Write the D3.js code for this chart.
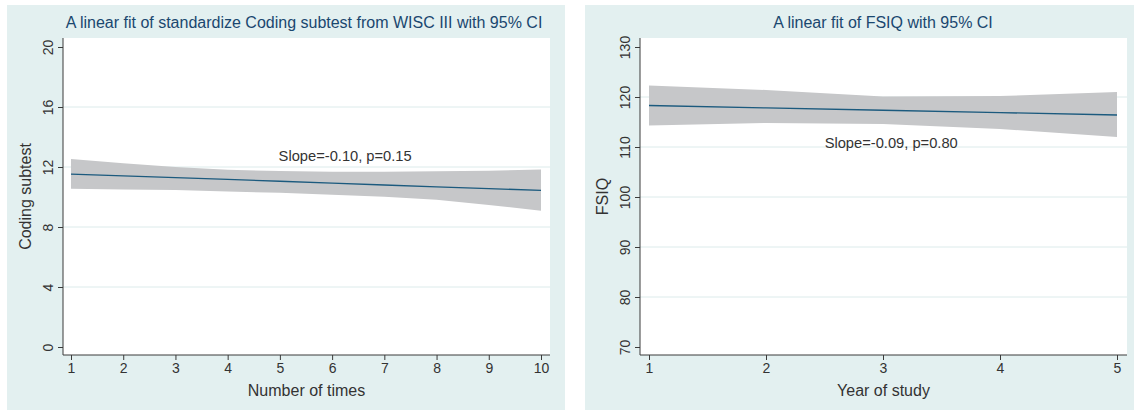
<!DOCTYPE html>
<html>
<head>
<meta charset="utf-8">
<script src="https://d3js.org/d3.v7.min.js"></script>
<style>
    body {
        margin: 0;
        background: #ffffff;
        font-family: "Liberation Sans", Arial, sans-serif;
    }
    .panel-bg { fill: #e3f0f0; }
    .plot-bg { fill: #ffffff; }
    .grid-line { stroke: #dcebeb; stroke-width: 1; }
    .ci-band { fill: #c6c7c9; }
    .fit-line { fill: none; stroke: #1b5a7e; stroke-width: 1.3; }
    .title { fill: #1a476f; font-size: 16px; }
    .axis-title { fill: #333333; font-size: 16px; }
    .note { fill: #333333; font-size: 14.7px; }
    .axis path, .axis line { stroke: #3a3a3a; }
    .axis text { fill: #333333; font-size: 14px; font-family: "Liberation Sans", Arial, sans-serif; }
</style>
</head>
<body>
<script>
    // left panel: coding subtest over number of times
    var codingX = [1, 2, 3, 4, 5, 6, 7, 8, 9, 10];
    var codingFit = [11.53, 11.41, 11.29, 11.17, 11.05, 10.92, 10.80, 10.68, 10.56, 10.44];
    var codingUpper = [12.54, 12.25, 12.0, 11.82, 11.73, 11.69, 11.69, 11.71, 11.75, 11.84];
    var codingLower = [10.55, 10.50, 10.46, 10.37, 10.28, 10.15, 10.01, 9.81, 9.47, 9.09];
    var codingYTicks = [0, 4, 8, 12, 16, 20];
    var codingXTicks = [1, 2, 3, 4, 5, 6, 7, 8, 9, 10];

    // right panel: FSIQ over year of study
    var fsiqX = [1, 2, 3, 4, 5];
    var fsiqFit = [118.3, 117.82, 117.35, 116.87, 116.4];
    var fsiqUpper = [122.3, 121.4, 120.1, 120.2, 121.0];
    var fsiqLower = [114.3, 114.8, 114.6, 113.6, 112.0];
    var fsiqYTicks = [70, 80, 90, 100, 110, 120, 130];
    var fsiqXTicks = [1, 2, 3, 4, 5];

    var svg = d3.select("body").append("svg")
        .attr("width", 1134)
        .attr("height", 410);

    function drawPanel(opt) {
        var g = svg.append("g");

        g.append("rect")
            .attr("class", "panel-bg")
            .attr("x", opt.box[0]).attr("y", opt.box[1])
            .attr("width", opt.box[2]).attr("height", opt.box[3]);

        var p = opt.plot; // left, top, right, bottom
        g.append("rect")
            .attr("class", "plot-bg")
            .attr("x", p.left).attr("y", p.top)
            .attr("width", p.right - p.left).attr("height", p.bottom - p.top);

        var x = d3.scaleLinear().domain(opt.xDomain).range(opt.xRange);
        var y = d3.scaleLinear().domain(opt.yDomain).range(opt.yRange);

        // grid lines, not at the ends
        g.selectAll(".grid-line")
            .data(opt.yTicks.slice(1, -1))
            .enter().append("line")
            .attr("class", "grid-line")
            .attr("x1", p.left).attr("x2", p.right)
            .attr("y1", function(d) { return y(d); })
            .attr("y2", function(d) { return y(d); });

        var rows = opt.xs.map(function(v, i) {
            return {x: v, fit: opt.fit[i], lo: opt.lower[i], hi: opt.upper[i]};
        });

        g.append("path")
            .datum(rows)
            .attr("class", "ci-band")
            .attr("d", d3.area()
                .x(function(d) { return x(d.x); })
                .y0(function(d) { return y(d.lo); })
                .y1(function(d) { return y(d.hi); }));

        g.append("path")
            .datum(rows)
            .attr("class", "fit-line")
            .attr("d", d3.line()
                .x(function(d) { return x(d.x); })
                .y(function(d) { return y(d.fit); }));

        // y axis
        var yAxis = g.append("g")
            .attr("class", "axis")
            .attr("transform", "translate(" + p.left + ",0)")
            .call(d3.axisLeft(y).tickValues(opt.yTicks).tickFormat(d3.format("d"))
                .tickSize(5).tickSizeOuter(0));
        yAxis.select(".domain").attr("d", "M0," + p.top + "V" + p.bottom);
        yAxis.selectAll(".tick text")
            .attr("x", 0).attr("y", 0)
            .attr("dy", "0")
            .attr("transform", "translate(-10,0) rotate(-90)")
            .style("text-anchor", "middle");

        // x axis
        var xAxis = g.append("g")
            .attr("class", "axis")
            .attr("transform", "translate(0," + p.bottom + ")")
            .call(d3.axisBottom(x).tickValues(opt.xTicks).tickFormat(d3.format("d"))
                .tickSize(5).tickSizeOuter(0));
        xAxis.select(".domain").attr("d", "M" + p.left + ",0H" + p.right);
        xAxis.selectAll(".tick text").attr("y", 8);

        g.append("text")
            .attr("class", "title")
            .attr("x", opt.titleX).attr("y", 28)
            .attr("text-anchor", "middle")
            .text(opt.title);

        g.append("text")
            .attr("class", "axis-title")
            .attr("x", (p.left + p.right) / 2).attr("y", 396)
            .attr("text-anchor", "middle")
            .text(opt.xLabel);

        g.append("text")
            .attr("class", "axis-title")
            .attr("transform", "translate(" + opt.yLabelX + "," + ((p.top + p.bottom) / 2) + ") rotate(-90)")
            .attr("text-anchor", "middle")
            .text(opt.yLabel);

        g.append("text")
            .attr("class", "note")
            .attr("x", x(opt.note[0])).attr("y", y(opt.note[1]))
            .attr("text-anchor", "middle")
            .text(opt.noteText);
    }

    drawPanel({
        box: [7, 5, 558, 405],
        plot: {left: 63, top: 38, right: 550, bottom: 355},
        xDomain: [1, 10], xRange: [71, 541],
        yDomain: [0, 20], yRange: [347, 47],
        xs: codingX, fit: codingFit, upper: codingUpper, lower: codingLower,
        yTicks: codingYTicks, xTicks: codingXTicks,
        title: "A linear fit of standardize Coding subtest from WISC III with 95% CI",
        titleX: 304,
        xLabel: "Number of times",
        yLabel: "Coding subtest",
        yLabelX: 31,
        note: [6.25, 12.4],
        noteText: "Slope=-0.10, p=0.15"
    });

    drawPanel({
        box: [585, 5, 549, 405],
        plot: {left: 640, top: 38, right: 1127, bottom: 355},
        xDomain: [1, 5], xRange: [649, 1117],
        yDomain: [70, 130], yRange: [347, 47],
        xs: fsiqX, fit: fsiqFit, upper: fsiqUpper, lower: fsiqLower,
        yTicks: fsiqYTicks, xTicks: fsiqXTicks,
        title: "A linear fit of FSIQ with 95% CI",
        titleX: 883,
        xLabel: "Year of study",
        yLabel: "FSIQ",
        yLabelX: 608,
        note: [3.07, 109.9],
        noteText: "Slope=-0.09, p=0.80"
    });
</script>
</body>
</html>
